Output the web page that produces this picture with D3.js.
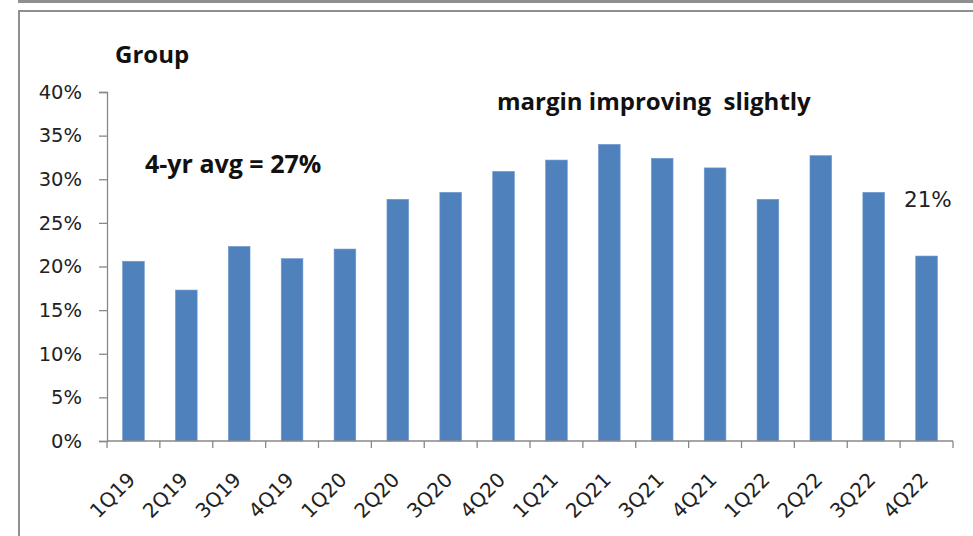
<!DOCTYPE html>
<html>
<head>
<meta charset="utf-8">
<script src="https://cdn.jsdelivr.net/npm/d3@7"></script>
<style>
  body { margin: 0; background: #fff; }
  svg { display: block; }
</style>
</head>
<body>
<div id="chart"></div>
<script>
// Quarterly margin, Group
const quarters = ["1Q19", "2Q19", "3Q19", "4Q19", "1Q20", "2Q20", "3Q20", "4Q20",
                  "1Q21", "2Q21", "3Q21", "4Q21", "1Q22", "2Q22", "3Q22", "4Q22"];
const margins = [0.206, 0.173, 0.223, 0.209, 0.220, 0.277, 0.285, 0.309,
                 0.322, 0.340, 0.324, 0.313, 0.277, 0.327, 0.285, 0.212];
const yTicks = [0, 0.05, 0.10, 0.15, 0.20, 0.25, 0.30, 0.35, 0.40];

const width = 973, height = 536;
const plot = { left: 107, right: 953, top: 92, bottom: 441 };
const regular = "'DejaVu Sans', sans-serif";
const bold = "'Open Sans', sans-serif";

const svg = d3.select("#chart").append("svg")
  .attr("width", width)
  .attr("height", height);

// frame lines (edge of the slide boxes)
svg.append("rect").attr("x", 18).attr("y", 0).attr("width", width - 18).attr("height", 3).attr("fill", "#8f8f8f");
svg.append("rect").attr("x", 18).attr("y", 10).attr("width", width - 18).attr("height", 2).attr("fill", "#8f8f8f");
svg.append("rect").attr("x", 18).attr("y", 10).attr("width", 2).attr("height", height - 10).attr("fill", "#8f8f8f");

const x = d3.scaleBand()
  .domain(quarters)
  .range([plot.left, plot.right])
  .paddingInner(0.59)
  .paddingOuter(0.295);

const y = d3.scaleLinear()
  .domain([0, 0.4])
  .range([plot.bottom, plot.top]);

// bars
svg.append("g")
  .selectAll("rect")
  .data(quarters)
  .join("rect")
  .attr("x", d => x(d))
  .attr("y", (d, i) => y(margins[i]))
  .attr("width", x.bandwidth())
  .attr("height", (d, i) => y(0) - y(margins[i]))
  .attr("fill", "#4f81bd")
  .attr("stroke", "#6e98cc")
  .attr("stroke-width", 0.6);

// y axis
const yAxis = svg.append("g")
  .attr("transform", `translate(${plot.left},0)`)
  .call(d3.axisLeft(y).tickValues(yTicks).tickFormat(d3.format(".0%")).tickSize(8).tickPadding(17));
yAxis.select(".domain").attr("stroke", "#888").attr("stroke-width", 1.3);
yAxis.selectAll(".tick line").attr("stroke", "#888").attr("stroke-width", 1.3);
yAxis.selectAll(".tick text")
  .attr("font-family", regular)
  .attr("font-size", 19.5)
  .attr("fill", "#222");

// x axis line with ticks at category boundaries
const xAxis = svg.append("g");
xAxis.append("line")
  .attr("x1", plot.left).attr("x2", plot.right)
  .attr("y1", plot.bottom).attr("y2", plot.bottom)
  .attr("stroke", "#888").attr("stroke-width", 1.3);
const bounds = d3.range(quarters.length + 1).map(i => plot.left + i * x.step());
xAxis.selectAll(".xt")
  .data(bounds)
  .join("line")
  .attr("x1", d => d).attr("x2", d => d)
  .attr("y1", plot.bottom).attr("y2", plot.bottom + 7)
  .attr("stroke", "#888").attr("stroke-width", 1.3);

xAxis.selectAll(".xl")
  .data(quarters)
  .join("text")
  .attr("transform", d => `translate(${x(d) + x.bandwidth() / 2 + 3},${plot.bottom + 40}) rotate(-45)`)
  .attr("text-anchor", "end")
  .attr("font-family", regular)
  .attr("font-size", 20)
  .attr("fill", "#222")
  .text(d => d);

// annotations
svg.append("text")
  .attr("x", 115).attr("y", 63)
  .attr("font-family", bold).attr("font-weight", "bold").attr("font-size", 24)
  .attr("fill", "#111")
  .text("Group");

svg.append("text")
  .attr("x", 145).attr("y", 173)
  .attr("font-family", bold).attr("font-weight", "bold").attr("font-size", 25)
  .attr("fill", "#111")
  .text("4-yr avg = 27%");

svg.append("text")
  .attr("x", 497).attr("y", 110)
  .attr("font-family", bold).attr("font-weight", "bold").attr("font-size", 24)
  .attr("fill", "#111")
  .style("white-space", "pre")
  .text("margin improving  slightly");

svg.append("text")
  .attr("x", 904).attr("y", 207)
  .attr("font-family", regular)
  .attr("font-size", 21.5)
  .attr("fill", "#222")
  .text("21%");
</script>
</body>
</html>
